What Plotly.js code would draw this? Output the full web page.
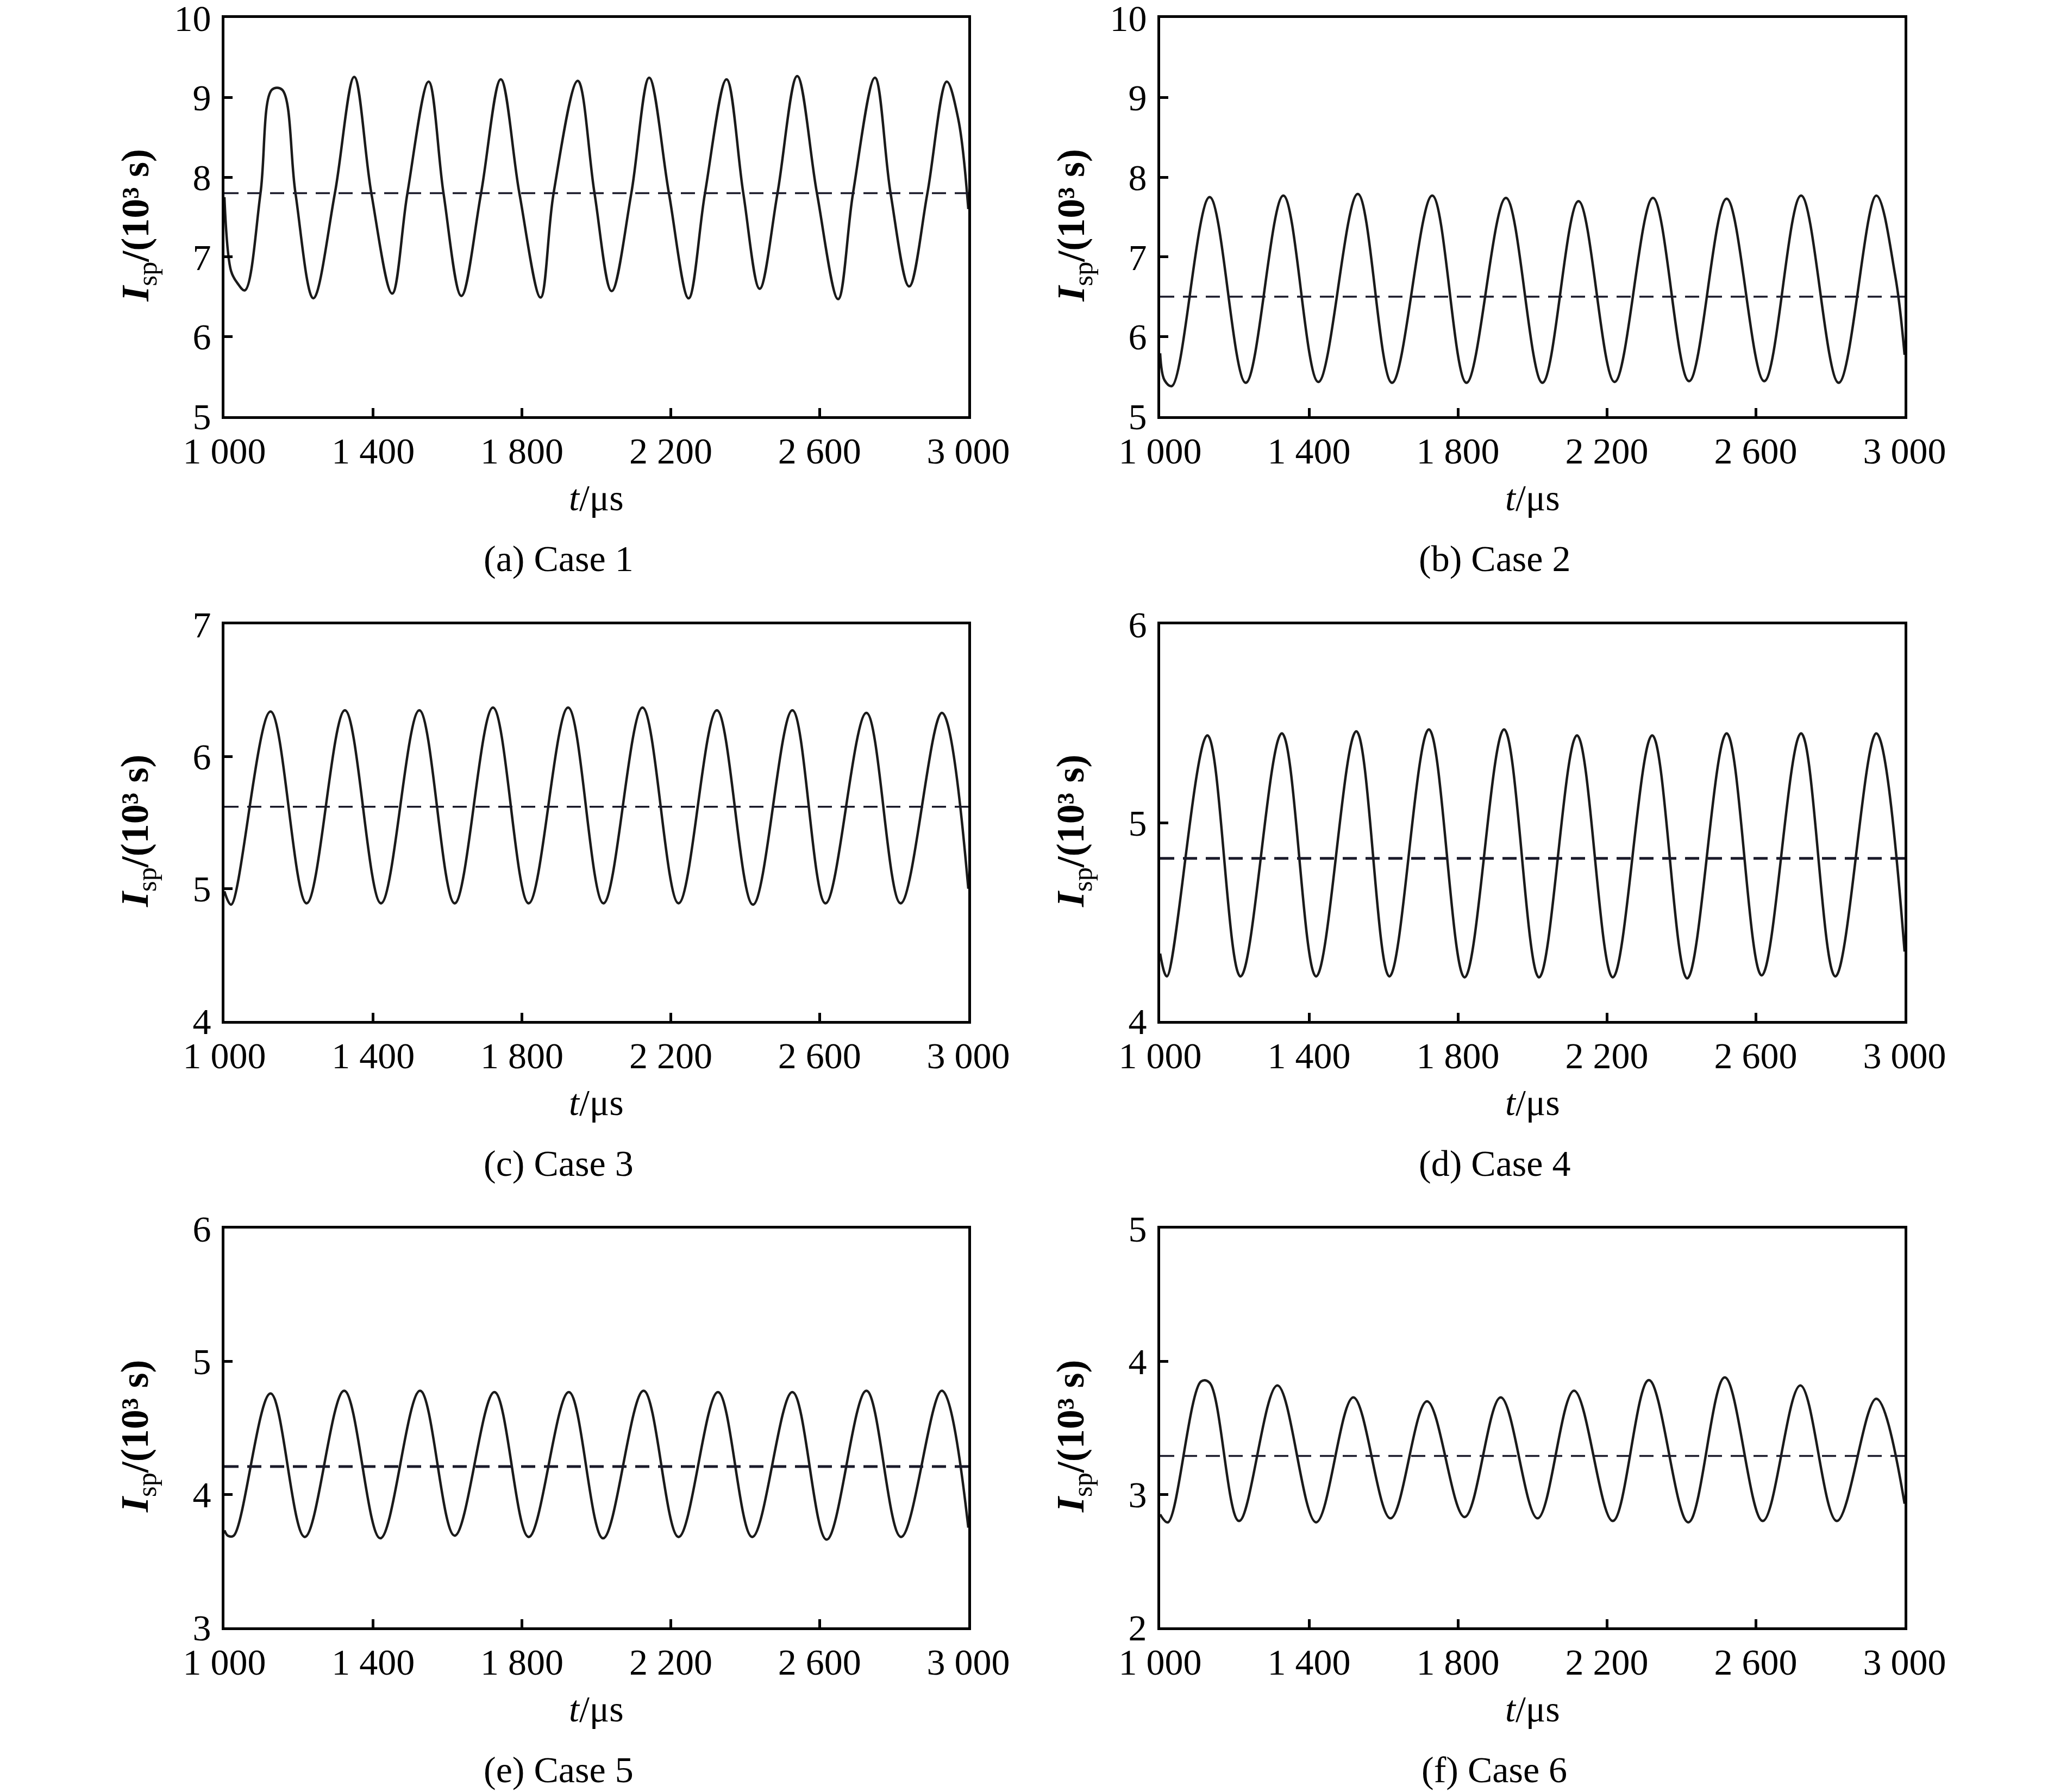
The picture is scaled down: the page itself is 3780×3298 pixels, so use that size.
<!DOCTYPE html>
<html>
<head>
<meta charset="utf-8">
<script src="https://cdn.plot.ly/plotly-3.0.1.min.js"></script>
<style>
  html, body { margin: 0; padding: 0; background: #ffffff; }
  #chart { width: 3780px; height: 3298px; }
</style>
</head>
<body>
<div id="chart"></div>
<script>
// --- Data: t in microseconds, Isp in 10^3 s ---
const t1 = [1000, 1018, 1035, 1055, 1097, 1128, 1155, 1191, 1239, 1297, 1349, 1395, 1451, 1492, 1549, 1589, 1637, 1690, 1743, 1793, 1850, 1885, 1950, 1995, 2041, 2094, 2142, 2195, 2248, 2292, 2350, 2395, 2439, 2487, 2540, 2593, 2650, 2690, 2749, 2791, 2841, 2890, 2942, 2973, 3000];
const isp1 = [7.75, 6.82, 6.67, 6.58, 7.8, 9.1, 9.1, 7.8, 6.48, 7.8, 9.26, 7.8, 6.54, 7.8, 9.2, 7.8, 6.51, 7.8, 9.23, 7.8, 6.49, 7.8, 9.21, 7.8, 6.57, 7.8, 9.25, 7.8, 6.48, 7.8, 9.23, 7.8, 6.6, 7.8, 9.27, 7.8, 6.47, 7.8, 9.25, 7.8, 6.63, 7.8, 9.2, 8.73, 7.6];

const t2 = [1000, 1012, 1032, 1133, 1230, 1331, 1425, 1531, 1623, 1731, 1823, 1929, 2027, 2124, 2221, 2324, 2421, 2522, 2623, 2722, 2823, 2924, 2975, 3000];
const isp2 = [5.79, 5.45, 5.38, 7.75, 5.42, 7.77, 5.43, 7.79, 5.42, 7.77, 5.42, 7.74, 5.42, 7.70, 5.43, 7.74, 5.44, 7.73, 5.44, 7.77, 5.42, 7.77, 6.76, 5.77];

const t3 = [1000, 1018, 1124, 1221, 1324, 1421, 1524, 1619, 1722, 1818, 1924, 2019, 2124, 2221, 2324, 2421, 2527, 2616, 2726, 2818, 2929, 3000];
const isp3 = [4.98, 4.88, 6.34, 4.89, 6.35, 4.89, 6.35, 4.89, 6.37, 4.89, 6.37, 4.89, 6.37, 4.89, 6.35, 4.88, 6.35, 4.89, 6.33, 4.89, 6.33, 5.0];

const t4 = [1000, 1018, 1127, 1216, 1327, 1419, 1527, 1616, 1722, 1818, 1924, 2018, 2120, 2216, 2322, 2416, 2522, 2616, 2722, 2814, 2924, 3000];
const isp4 = [4.34, 4.225, 5.44, 4.225, 5.45, 4.225, 5.46, 4.225, 5.47, 4.22, 5.47, 4.22, 5.44, 4.22, 5.44, 4.215, 5.45, 4.23, 5.45, 4.225, 5.45, 4.35];

const t5 = [1000, 1009, 1025, 1124, 1216, 1322, 1419, 1526, 1619, 1726, 1818, 1926, 2018, 2127, 2221, 2327, 2419, 2527, 2619, 2726, 2819, 2929, 3000];
const isp5 = [3.73, 3.69, 3.69, 4.76, 3.68, 4.78, 3.67, 4.78, 3.69, 4.77, 3.68, 4.77, 3.67, 4.78, 3.68, 4.77, 3.68, 4.77, 3.66, 4.78, 3.68, 4.78, 3.75];

const t6 = [1000, 1021, 1110, 1133, 1212, 1315, 1419, 1519, 1619, 1717, 1818, 1915, 2014, 2112, 2216, 2313, 2419, 2517, 2619, 2720, 2818, 2924, 3000];
const isp6 = [2.85, 2.79, 3.85, 3.84, 2.80, 3.82, 2.79, 3.73, 2.82, 3.70, 2.83, 3.73, 2.82, 3.78, 2.80, 3.86, 2.79, 3.88, 2.80, 3.82, 2.80, 3.72, 2.93];

const means = [7.8, 6.5, 5.62, 4.82, 4.21, 3.29];
const yRanges = [[5, 10], [5, 10], [4, 7], [4, 6], [3, 6], [2, 5]];
const yTicks = [[5, 6, 7, 8, 9, 10], [5, 6, 7, 8, 9, 10], [4, 5, 6, 7], [4, 5, 6], [3, 4, 5, 6], [2, 3, 4, 5]];
const captions = ['(a) Case 1', '(b) Case 2', '(c) Case 3', '(d) Case 4', '(e) Case 5', '(f) Case 6'];
const xTickVals = [1000, 1400, 1800, 2200, 2600, 3000];
const xTickText = ['1 000', '1 400', '1 800', '2 200', '2 600', '3 000'];

const series = [[t1, isp1], [t2, isp2], [t3, isp3], [t4, isp4], [t5, isp5], [t6, isp6]];

// --- Page geometry (pixels of the 3780 x 3298 figure) ---
const W = 3780, H = 3298;
const cols = [[413, 1782], [2135, 3505]];
const rows = [[33, 766], [1149, 1879], [2261, 2995]];
const FONT = 'Liberation Serif, Times New Roman, serif';

function px(x) { return x / W; }
function py(y) { return 1 - y / H; }

const traces = [];
const layout = {
  width: W, height: H,
  margin: { l: 0, r: 0, t: 0, b: 0 },
  paper_bgcolor: '#ffffff',
  plot_bgcolor: '#ffffff',
  showlegend: false,
  font: { family: FONT, size: 68, color: '#000000' },
  annotations: []
};

series.forEach(function (s, i) {
  const n = i + 1;
  const col = cols[i % 2];
  const row = rows[Math.floor(i / 2)];
  const xa = n === 1 ? 'x' : 'x' + n;
  const ya = n === 1 ? 'y' : 'y' + n;

  traces.push({
    x: s[0], y: s[1], xaxis: xa, yaxis: ya,
    type: 'scatter', mode: 'lines',
    line: { color: '#1a1a1a', width: 4.5, shape: 'spline', smoothing: 1 },
    hoverinfo: 'skip'
  });
  traces.push({
    x: [1000, 3000], y: [means[i], means[i]], xaxis: xa, yaxis: ya,
    type: 'scatter', mode: 'lines',
    line: { color: '#1a1a2a', width: (i === 3 || i === 4) ? 5 : 3.5, dash: '26px,16px' },
    hoverinfo: 'skip'
  });

  const ax = {
    domain: [px(col[0]), px(col[1])],
    anchor: ya,
    range: [1000, 3000],
    tickmode: 'array', tickvals: xTickVals, ticktext: xTickText,
    ticks: 'inside', ticklen: 15, tickwidth: 5, tickcolor: '#000000',
    showline: true, linewidth: 5, linecolor: '#000000', mirror: true,
    showgrid: false, zeroline: false,
    tickfont: { family: FONT, size: 68, color: '#000000' },
    ticklabelstandoff: 0,
    ticklabeloverflow: 'allow'
  };
  const ay = {
    domain: [py(row[1]), py(row[0])],
    anchor: xa,
    range: yRanges[i],
    tickmode: 'array', tickvals: yTicks[i], ticktext: yTicks[i].map(String),
    ticks: 'inside', ticklen: 15, tickwidth: 5, tickcolor: '#000000',
    showline: true, linewidth: 5, linecolor: '#000000', mirror: true,
    showgrid: false, zeroline: false,
    tickfont: { family: FONT, size: 68, color: '#000000' },
    ticklabelstandoff: 6,
    ticklabeloverflow: 'allow'
  };
  layout[n === 1 ? 'xaxis' : 'xaxis' + n] = ax;
  layout[n === 1 ? 'yaxis' : 'yaxis' + n] = ay;

  const cx = (col[0] + col[1]) / 2;
  const cy = (row[0] + row[1]) / 2;

  // y-axis title
  layout.annotations.push({
    xref: 'paper', yref: 'paper',
    x: px(col[0] - 160), y: py(cy + 15),
    xanchor: 'center', yanchor: 'middle',
    textangle: -90, showarrow: false,
    text: '<b><i>I</i></b><sub>sp</sub><b>/(10³ s)</b>',
    font: { family: FONT, size: 72, color: '#000000' }
  });
  // x-axis title
  layout.annotations.push({
    xref: 'paper', yref: 'paper',
    x: px(cx), y: py(row[1] + 150),
    xanchor: 'center', yanchor: 'middle', showarrow: false,
    text: '<i>t</i>/μs',
    font: { family: FONT, size: 68, color: '#000000' }
  });
  // panel caption
  layout.annotations.push({
    xref: 'paper', yref: 'paper',
    x: px(cx - 70), y: py(row[1] + 262),
    xanchor: 'center', yanchor: 'middle', showarrow: false,
    text: captions[i],
    font: { family: FONT, size: 68, color: '#000000' }
  });
});

Plotly.newPlot('chart', traces, layout, { staticPlot: true, displayModeBar: false });
</script>
</body>
</html>
